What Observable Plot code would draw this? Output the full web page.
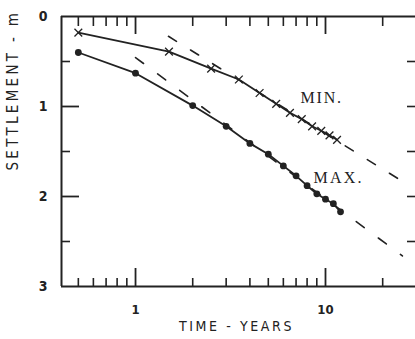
<!DOCTYPE html>
<html><head><meta charset="utf-8">
<script src="https://cdn.jsdelivr.net/npm/d3@7"></script>
<script src="https://cdn.jsdelivr.net/npm/@observablehq/plot@0.6"></script>
<style>
body{margin:0;background:#fff;}
#chart svg{display:block;}
</style>
</head><body><div id="chart"></div>
<script>
// Data
const minTime = [0.5, 1.5, 2.5, 3.5, 4.5, 5.5, 6.5, 7.5, 8.5, 9.5, 10.5, 11.5];
const minSettlement = [0.18, 0.39, 0.58, 0.70, 0.85, 0.97, 1.07, 1.14, 1.22, 1.27, 1.32, 1.37];
const maxTime = [0.5, 1, 2, 3, 4, 5, 6, 7, 8, 9, 10, 11, 12];
const maxSettlement = [0.40, 0.63, 0.99, 1.22, 1.41, 1.53, 1.66, 1.77, 1.88, 1.97, 2.03, 2.08, 2.17];
const minTrendTime = [1.49, 26.7];
const minTrendSettlement = [0.22, 1.86];
const maxTrendTime = [1.0, 25.4];
const maxTrendSettlement = [0.456, 2.66];
const curveLabels = ["MIN.", "MAX."];
const labelTime = [7.39, 8.65];
const labelSettlement = [0.90, 1.79];
const xDomain = [0.4077, 29.77];
const yDomain = [0, 3];
const xMinorTicks = [0.5, 0.6, 0.7, 0.8, 0.9, 2, 3, 4, 5, 6, 7, 8, 9, 20];
const xMajorTicks = [1, 10];
const xTickLabels = ["1", "10"];
const yMinorTicks = [0.5, 1.5, 2.5];
const yMajorTicks = [1, 2];
const yTickValues = [0, 1, 2, 3];
const yTickLabels = ["0", "1", "2", "3"];
const rightTicks = [0.5, 1, 1.5, 2, 2.5];
const xTitle = "TIME - YEARS";
const yTitle = "SETTLEMENT - m";

// Tables for the library
const minData = minTime.map((t, i) => ({t, s: minSettlement[i]}));
const maxData = maxTime.map((t, i) => ({t, s: maxSettlement[i]}));
const minTrend = minTrendTime.map((t, i) => ({t, s: minTrendSettlement[i]}));
const maxTrend = maxTrendTime.map((t, i) => ({t, s: maxTrendSettlement[i]}));
const labels = curveLabels.map((text, i) => ({text, t: labelTime[i], s: labelSettlement[i]}));

const W = 415, H = 339, mL = 61, mT = 16, mB = 53, mR = 0;
const fw = W - mL - mR, fh = H - mT - mB;
const ink = "#222222";
const sans = "'DejaVu Sans Condensed', 'DejaVu Sans', sans-serif";
const serif = "'Liberation Serif', 'DejaVu Serif', serif";
const blank = () => "";

// inward ticks drawn with the library's own axis marks, shifted by their length
const xTicks = (ticks, anchor, len, w) => Plot.axisX(ticks, {anchor, tickSize: len, dy: anchor === "bottom" ? -len : len,
  tickFormat: blank, label: null, stroke: ink, strokeWidth: w});
const yTicks = (ticks, anchor, len, w) => Plot.axisY(ticks, {anchor, tickSize: len, dx: anchor === "left" ? len : -len,
  tickFormat: blank, label: null, stroke: ink, strokeWidth: w});

const chart = Plot.plot({
  width: W, height: H,
  marginLeft: mL, marginTop: mT, marginBottom: mB, marginRight: mR,
  x: {type: "log", domain: xDomain},
  y: {domain: yDomain, reverse: true},
  style: {fontFamily: sans},
  marks: [
    // frame (left, top, bottom)
    Plot.ruleX([xDomain[0]], {stroke: ink, strokeWidth: 2}),
    Plot.ruleY([yDomain[0]], {stroke: ink, strokeWidth: 2}),
    Plot.ruleY([yDomain[1]], {stroke: ink, strokeWidth: 2}),
    // inward ticks
    xTicks(xMinorTicks, "bottom", 8, 1.6),
    xTicks(xMajorTicks, "bottom", 18, 1.8),
    xTicks(xMinorTicks, "top", 9, 1.6),
    xTicks(xMajorTicks, "top", 17, 1.8),
    yTicks(yMinorTicks, "left", 9, 1.6),
    yTicks(yMajorTicks, "left", 18, 1.8),
    yTicks(rightTicks, "right", 9, 1.6),
    // dashed trend lines
    Plot.line(minTrend, {x: "t", y: "s", stroke: ink, strokeWidth: 1.6, strokeDasharray: "9.5,16.5"}),
    Plot.line(maxTrend, {x: "t", y: "s", stroke: ink, strokeWidth: 1.6, strokeDasharray: "10,17.5"}),
    // measured curves
    Plot.line(minData, {x: "t", y: "s", stroke: ink, strokeWidth: 1.8}),
    Plot.dot(minData, {x: "t", y: "s", symbol: "times", r: 3.6, stroke: ink, strokeWidth: 1.3}),
    Plot.line(maxData, {x: "t", y: "s", stroke: ink, strokeWidth: 1.8}),
    Plot.dot(maxData, {x: "t", y: "s", r: 3.4, fill: ink, stroke: null}),
    // curve labels
    Plot.text(labels, {x: "t", y: "s", text: "text", textAnchor: "start", lineAnchor: "middle",
      fontFamily: serif, fontSize: 16, fill: ink}),
    // tick labels
    Plot.text(xMajorTicks, {x: d => d, frameAnchor: "bottom", dy: 23, lineAnchor: "middle",
      text: (d, i) => xTickLabels[i], fontSize: 13, fill: ink, fontWeight: "bold"}),
    Plot.text(yTickValues, {y: d => d, frameAnchor: "left", dx: -14, textAnchor: "end", lineAnchor: "middle",
      text: (d, i) => yTickLabels[i], fontSize: 14, fill: ink, fontWeight: "bold"}),
    // axis titles
    Plot.text([xTitle], {frameAnchor: "bottom", dx: -2, dy: 40, lineAnchor: "middle", text: d => d,
      fontSize: 14, fill: ink}),
    Plot.text([yTitle], {frameAnchor: "left", dx: -48, dy: 19, rotate: -90, lineAnchor: "middle", text: d => d,
      fontSize: 15, fill: ink})
  ]
});
// letter spacing for the typewritten labels
const spacing = {[xTitle]: "2.6px", [yTitle]: "3.3px", "MIN.": "1.8px", "MAX.": "2.2px"};
d3.select(chart).selectAll("text").each(function() {
  const s = spacing[this.textContent];
  if (s) this.style.letterSpacing = s;
});
document.getElementById("chart").appendChild(chart);
</script>
</body></html>
